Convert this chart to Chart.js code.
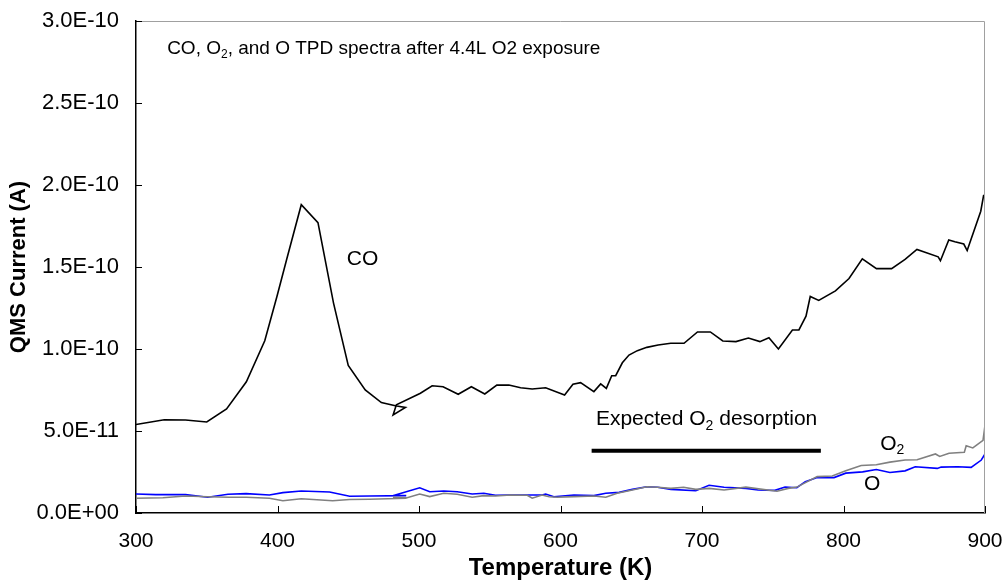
<!DOCTYPE html>
<html>
<head>
<meta charset="utf-8">
<script src="https://cdn.jsdelivr.net/npm/chart.js@4.4.1/dist/chart.umd.min.js"></script>
<style>
  html, body { margin: 0; padding: 0; background: #fff; }
  #wrap { width: 1005px; height: 588px; }
</style>
</head>
<body>
<div id="wrap"><canvas id="myChart"></canvas></div>
<script>
// signals are in units of 1e-11 A, temperatures in K
const coTemp = [300, 320, 335, 350, 364, 378, 391, 399.6, 406.6, 416.8, 428.6, 439.6, 450, 462, 473.4, 483.3, 490.4, 481.7, 484, 501,
  509.3, 517, 527.7, 537, 546.5, 555, 563.5, 571.8, 580, 589.5, 602.9, 608.8, 614.2, 623.6, 628.4, 632.4, 636.2, 639, 643.7, 648.4,
  654.3, 661, 669, 677.9, 687.3, 696.8, 705.9, 714.7, 724, 732.8, 740.9, 747.3, 754, 763.9, 768.5, 773.5, 776.5, 782.5, 794.3, 803.9,
  813.3, 823.3, 834, 843.5, 851.9, 866.9, 868.5, 874.4, 878.7, 885, 887.4, 897, 899, 900];
const coSignal = [5.4, 5.69, 5.67, 5.55, 6.34, 8.0, 10.5, 13.2, 15.5, 18.8, 17.7, 12.8, 9.0, 7.5, 6.73, 6.54, 6.44, 5.98, 6.6, 7.3,
  7.76, 7.7, 7.24, 7.7, 7.26, 7.8, 7.8, 7.64, 7.56, 7.64, 7.2, 7.85, 7.95, 7.4, 7.87, 7.6, 8.37, 8.37, 9.16, 9.63,
  9.9, 10.1, 10.24, 10.35, 10.35, 11.04, 11.04, 10.49, 10.45, 10.67, 10.45, 10.69, 10.0, 11.16, 11.16, 12.0, 13.2, 12.96, 13.54, 14.3,
  15.5, 14.9, 14.9, 15.46, 16.07, 15.62, 15.38, 16.65, 16.54, 16.4, 16.0, 18.4, 19.35, 19.35];

const oTemp = [300, 314, 335, 350.7, 365, 377.8, 394.3, 403.8, 416.8, 436.8, 451, 465, 491, 481.6, 491, 500.5, 507.6, 517.5, 527, 537.6,
  545.8, 554, 564.7, 587, 589.5, 595.3, 609.5, 623.6, 632, 641.4, 650.8, 661, 668.6, 678, 695.6, 705, 715.6, 731, 739.7, 751.5,
  758.7, 767, 773, 781.4, 793.3, 801.6, 813.5, 823.2, 832.8, 843.5, 850.7, 866.3, 869, 880.7, 890.2, 897.4, 900];
const oSignal = [1.16, 1.12, 1.12, 0.96, 1.14, 1.18, 1.1, 1.24, 1.34, 1.28, 1.02, 1.04, 1.06, 1.06, 1.3, 1.54, 1.3, 1.34, 1.3, 1.16,
  1.2, 1.08, 1.1, 1.1, 1.16, 0.99, 1.1, 1.06, 1.2, 1.26, 1.44, 1.6, 1.57, 1.44, 1.36, 1.69, 1.57, 1.5, 1.4, 1.38,
  1.58, 1.54, 1.91, 2.16, 2.16, 2.43, 2.51, 2.65, 2.47, 2.57, 2.82, 2.72, 2.8, 2.82, 2.78, 3.23, 3.6];

const o2Temp = [300, 319, 335, 350.7, 366, 378, 394.3, 403.8, 416.8, 439, 451, 465, 491, 481.6, 491, 500.5, 507.6, 517.5, 527, 537.6,
  545.8, 554, 564.7, 576.5, 580, 587, 592, 597.7, 609.5, 623.6, 632, 640, 650.8, 661, 668.6, 678, 687, 695.6, 705, 715.6,
  731, 753, 760.9, 767, 781.4, 792, 801.6, 812.5, 823.2, 832.8, 843.5, 852, 865, 868, 874.6, 885.4, 886.7, 891.4, 898.6, 900];
const o2Signal = [0.9, 0.93, 1.04, 0.99, 0.96, 0.96, 0.9, 0.75, 0.87, 0.75, 0.82, 0.84, 0.9, 0.96, 0.92, 1.16, 1.0, 1.2, 1.14, 0.96,
  1.06, 1.04, 1.1, 1.08, 0.9, 1.1, 0.99, 0.96, 1.0, 1.04, 0.96, 1.2, 1.4, 1.6, 1.57, 1.5, 1.57, 1.44, 1.5, 1.4,
  1.58, 1.33, 1.5, 1.58, 2.22, 2.26, 2.57, 2.9, 2.94, 3.1, 3.23, 3.25, 3.6, 3.45, 3.64, 3.7, 4.1, 3.97, 4.43, 5.35];

// expected O2 desorption range (K) and bar height
const expectedRange = [622, 784];
const expectedLevel = 3.8;

const FONT = '"Liberation Sans", Arial, sans-serif';

const toPoints = (xs, ys) => xs.map((x, i) => ({ x: x, y: ys[i] }));

// 5 -> "5.0E-11", 0 -> "0.0E+00"
const formatSci = (v) => {
  let s = (v * 1e-11).toExponential(1).toUpperCase();
  return s.replace(/E([+-])(\d)$/, 'E$10$2');
};

// text with optional subscripts, parts = [[text, isSub], ...]
function drawParts(ctx, parts, x, y, size) {
  let cx = x;
  parts.forEach(([txt, sub]) => {
    const fs = sub ? Math.round(size * 0.65) : size;
    ctx.font = fs + 'px ' + FONT;
    ctx.fillText(txt, cx, sub ? y + size * 0.3 : y);
    cx += ctx.measureText(txt).width;
  });
}

const notes = [
  { x: 322, y: 28.3, size: 19, parts: [['CO, O', 0], ['2', 1], [', and O TPD spectra after 4.4L O2 exposure', 0]] },
  { x: 449, y: 15.5, size: 21, parts: [['CO', 0]] },
  { x: 625, y: 5.7, size: 21, parts: [['Expected O', 0], ['2', 1], [' desorption', 0]] },
  { x: 826, y: 4.2, size: 21, parts: [['O', 0], ['2', 1]] },
  { x: 814.5, y: 1.75, size: 21, parts: [['O', 0]] }
];

const extras = {
  id: 'extras',
  afterDraw(chart) {
    const { ctx, chartArea: a, scales: { x, y } } = chart;
    ctx.save();
    // frame top / right
    ctx.strokeStyle = '#a0a0a0';
    ctx.lineWidth = 1;
    ctx.beginPath();
    ctx.moveTo(a.left, a.top + 0.5);
    ctx.lineTo(a.right - 0.5, a.top + 0.5);
    ctx.lineTo(a.right - 0.5, a.bottom);
    ctx.stroke();
    // ticks pointing inwards
    ctx.strokeStyle = '#000';
    ctx.beginPath();
    x.ticks.forEach(t => {
      const px = Math.round(x.getPixelForValue(t.value)) + 0.5;
      ctx.moveTo(px, a.bottom);
      ctx.lineTo(px, a.bottom - 7);
    });
    y.ticks.forEach(t => {
      const py = Math.round(y.getPixelForValue(t.value)) + 0.5;
      ctx.moveTo(a.left, py);
      ctx.lineTo(a.left + 6, py);
    });
    ctx.stroke();
    // annotations
    ctx.fillStyle = '#000';
    ctx.textBaseline = 'middle';
    ctx.textAlign = 'left';
    notes.forEach(n => drawParts(ctx, n.parts, x.getPixelForValue(n.x), y.getPixelForValue(n.y), n.size));
    ctx.restore();
  }
};

const lineDs = (data, color, width) => ({
  data: data,
  borderColor: color,
  borderWidth: width,
  pointRadius: 0,
  tension: 0,
  fill: false
});

const datasets = [
  lineDs(toPoints(o2Temp, o2Signal), '#808080', 1.6),
  lineDs(toPoints(oTemp, oSignal), '#0000ff', 1.6),
  lineDs(toPoints(coTemp, coSignal), '#000000', 1.6),
  lineDs(toPoints(expectedRange, [expectedLevel, expectedLevel]), '#000000', 4)
];

const grafico = new Chart(document.getElementById('myChart'), {
  type: 'line',
  data: { datasets },
  plugins: [extras],
  options: {
    responsive: true,
    maintainAspectRatio: false,
    animation: false,
    layout: { padding: { top: 21, right: 20, left: 0, bottom: 0 } },
    plugins: { legend: { display: false }, tooltip: { enabled: false } },
    scales: {
      x: {
        type: 'linear',
        min: 300, max: 900,
        afterFit: (s) => { s.height = 75; s.paddingLeft = 0; s.paddingRight = 0; },
        grid: { display: false, drawTicks: false },
        border: { display: true, color: '#000', width: 1.5 },
        ticks: { stepSize: 100, padding: 16, color: '#000', font: { family: FONT, size: 21 } },
        title: {
          display: true, text: 'Temperature (K)', color: '#000',
          font: { family: FONT, size: 24, weight: 'bold' }, padding: { top: 0, bottom: 5 }
        }
      },
      y: {
        min: 0, max: 30,
        afterFit: (s) => { s.width = 136; s.paddingTop = 0; s.paddingBottom = 0; },
        grid: { display: false, drawTicks: false },
        border: { display: true, color: '#000', width: 1.5 },
        ticks: { stepSize: 5, padding: 17, color: '#000', font: { family: FONT, size: 22 }, callback: (v) => formatSci(v) },
        title: {
          display: true, text: 'QMS Current (A)', color: '#000',
          font: { family: FONT, size: 22, weight: 'bold' }, padding: { top: 6, bottom: 0 }
        }
      }
    }
  }
});
</script>
</body>
</html>
